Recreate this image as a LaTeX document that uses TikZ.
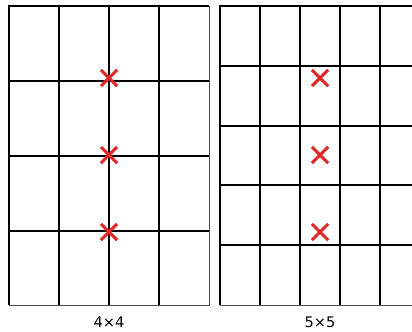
\documentclass[tikz,border=0pt]{standalone}
\usepackage{fontspec}
\setmainfont{DejaVu Sans}
\usetikzlibrary{shapes.misc}
\definecolor{markred}{RGB}{224,40,40}
\tikzset{
  gridline/.style={black, line width=1.4pt},
  frameline/.style={black!70, line width=0.7pt},
  xmark/.style={cross out, draw=markred, line width=2.2pt, minimum size=9.5pt, inner sep=0pt},
  caption/.style={font=\fontsize{10.5}{12}\selectfont}
}
\begin{document}
\begin{tikzpicture}[x=0.72pt, y=-0.72pt]
        \useasboundingbox (0,0) rectangle (412,331);
        \clip (0,0) rectangle (412,331);

        % Left grid, 4x4
        \draw[frameline] (9,6) rectangle (209,305);
        \foreach \gx in {59,109,159}
            \draw[gridline] (\gx,6) -- (\gx,305);
        \foreach \gy in {81,156,231}
            \draw[gridline] (9,\gy) -- (209,\gy);
        \draw[gridline] (9,305) -- (9,6) -- (209,6);

        % Right grid, 5x5 (runs past the right edge)
        \draw[frameline] (220,6) rectangle (420,305);
        \foreach \gx in {260,300,340,380}
            \draw[gridline] (\gx,6) -- (\gx,305);
        \foreach \gy in {66,126,185,245}
            \draw[gridline] (220,\gy) -- (420,\gy);
        \draw[gridline] (220,305) -- (220,6) -- (420,6);

        % Marks
        \node[xmark] (la) at (109,78) {};
        \node[xmark] (lb) at (109,155) {};
        \node[xmark] (lc) at (109,232) {};
        \node[xmark] (ra) at (320,78) {};
        \node[xmark] (rb) at (320,155) {};
        \node[xmark] (rc) at (320,232) {};

        % Captions
        \node[caption] (capl) at (109,322) {4×4};
        \node[caption] (capr) at (320,322) {5×5};
    \end{tikzpicture}
\end{document}
